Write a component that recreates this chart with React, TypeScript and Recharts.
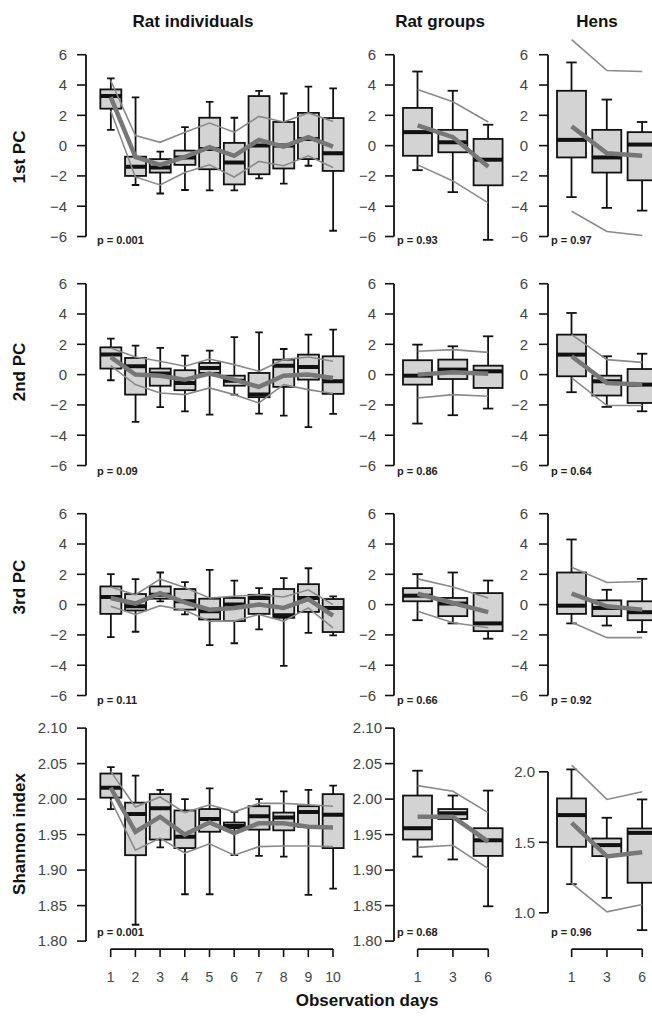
import React from 'react';
import { ComposedChart, Bar, Line, XAxis, YAxis, ReferenceLine } from 'recharts';

const FONT = '"Liberation Sans", Arial, Helvetica, sans-serif';

// x categories
const indDays = [1, 2, 3, 4, 5, 6, 7, 8, 9, 10];
const grpDays = [1, 3, 6];

// y tick labels
const pcTicks = [-6, -4, -2, 0, 2, 4, 6];
const shTicks = [1.8, 1.85, 1.9, 1.95, 2.0, 2.05, 2.1];
const henShTicks = [1.0, 1.5, 2.0];

const rowLabels = ['1st PC', '2nd PC', '3rd PC', 'Shannon index'];
const colTitles = ['Rat individuals', 'Rat groups', 'Hens'];
const pValues = [
  ['p = 0.001', 'p = 0.93', 'p = 0.97'],
  ['p = 0.09', 'p = 0.86', 'p = 0.64'],
  ['p = 0.11', 'p = 0.66', 'p = 0.92'],
  ['p = 0.001', 'p = 0.68', 'p = 0.96'],
];

// boxes: [lower whisker, q1, median, q3, upper whisker]
// lines: [lower CI, mean, upper CI]
const pc1IndBox = [
  [1.04, 2.44, 3.27, 3.71, 4.44],
  [-2.6, -2.0, -1.4, -0.73, 3.18],
  [-3.16, -1.78, -1.44, -0.89, -0.4],
  [-2.93, -1.27, -0.78, -0.33, 1.22],
  [-2.96, -1.56, -0.22, 1.84, 2.89],
  [-2.96, -2.56, -1.11, 0.18, 1.84],
  [-2.16, -1.89, 0.0, 3.27, 3.62],
  [-2.51, -1.51, 0.0, 1.56, 3.44],
  [-1.33, -0.89, 0.44, 2.16, 3.89],
  [-5.62, -1.67, -0.51, 1.82, 3.78],
];
const pc1IndLine = [
  [2.3, 3.2, 4.3], [-2.07, -0.75, 0.67], [-2.6, -1.27, 0.22], [-1.78, -0.75, 0.89],
  [-1.27, -0.1, 1.49], [-2.07, -0.67, 0.89], [-1.04, 0.38, 1.93], [-1.33, -0.07, 1.56],
  [-0.67, 0.56, 2.16], [-1.44, -0.07, 1.6],
];
const pc1GrpBox = [
  [-1.62, -0.67, 0.89, 2.49, 4.89],
  [-3.07, -0.44, 0.22, 1.04, 3.62],
  [-6.22, -2.62, -0.93, 0.44, 1.38],
];
const pc1GrpLine = [[-1.27, 1.33, 3.71], [-2.33, 0.56, 2.89], [-3.78, -1.4, 1.56]];
const pc1HenBox = [
  [-3.4, -0.78, 0.38, 3.62, 5.49],
  [-4.11, -1.78, -0.78, 1.04, 3.04],
  [-4.29, -2.29, 0.07, 0.89, 1.56],
];
const pc1HenLine = [[-4.33, 1.27, 7.0], [-5.67, -0.51, 4.96], [-5.93, -0.67, 4.89]];

const pc2IndBox = [
  [-0.37, 0.4, 1.32, 1.8, 2.37],
  [-3.12, -1.32, 0.55, 1.1, 1.91],
  [-2.15, -0.73, 0.07, 0.4, 1.76],
  [-2.42, -1.03, -0.55, 0.29, 1.25],
  [-2.64, 0.11, 0.44, 0.77, 1.58],
  [-1.32, -0.73, -0.4, -0.07, 2.48],
  [-2.57, -1.49, -1.32, 0.11, 2.79],
  [-2.7, -0.81, 0.59, 0.99, 1.69],
  [-3.47, -0.33, 0.51, 1.32, 2.64],
  [-2.59, -1.27, -0.44, 1.21, 2.97],
];
const pc2IndLine = [
  [0.59, 1.16, 1.76], [-0.66, 0.0, 1.16], [-1.21, -0.07, 0.88], [-1.32, -0.33, 0.55],
  [-0.88, 0.07, 1.03], [-1.32, -0.33, 0.66], [-1.87, -0.81, 0.22], [-0.66, -0.07, 0.99],
  [-0.99, 0.0, 1.16], [-1.25, -0.22, 0.88],
];
const pc2GrpBox = [
  [-3.23, -0.66, -0.07, 0.95, 1.98],
  [-2.68, -0.29, 0.33, 0.99, 1.87],
  [-2.24, -0.88, 0.22, 0.59, 2.53],
];
const pc2GrpLine = [[-1.54, 0.0, 1.54], [-1.32, 0.15, 1.65], [-1.43, 0.05, 1.47]];
const pc2HenBox = [
  [-1.16, -0.11, 1.32, 2.64, 4.07],
  [-2.13, -1.38, -0.44, -0.07, 1.21],
  [-2.42, -1.87, -0.66, 0.37, 1.38],
];
const pc2HenLine = [[-0.22, 1.21, 2.64], [-2.04, -0.55, 0.99], [-2.04, -0.66, 0.81]];

const pc3IndBox = [
  [-2.14, -0.61, 0.5, 1.2, 2.01],
  [-1.79, -0.39, -0.11, 0.7, 1.68],
  [0.22, 0.39, 0.65, 1.2, 2.12],
  [-0.65, -0.33, 0.22, 1.03, 1.48],
  [-2.68, -0.98, -0.44, 0.39, 2.29],
  [-2.55, -1.09, 0.0, 0.44, 1.59],
  [-1.64, -0.61, 0.44, 0.65, 1.09],
  [-4.04, -0.87, -0.7, 1.03, 1.75],
  [-1.86, -0.48, 0.44, 1.35, 2.4],
  [-2.03, -1.81, -0.22, 0.37, 0.55],
];
const pc3IndLine = [
  [-0.11, 0.44, 1.16], [-0.65, 0.07, 0.65], [-0.07, 0.76, 1.68], [-0.37, 0.15, 1.13],
  [-1.09, -0.33, 0.44], [-1.09, -0.22, 0.55], [-0.65, 0.0, 0.65], [-1.09, -0.22, 0.5],
  [-0.22, 0.37, 0.98], [-1.53, -0.72, 0.0],
];
const pc3GrpBox = [
  [-1.03, 0.22, 0.59, 1.09, 2.01],
  [-1.24, -0.76, 0.07, 0.44, 2.12],
  [-2.25, -1.75, -1.24, 0.76, 1.59],
];
const pc3GrpLine = [[-0.44, 0.72, 1.7], [-1.2, 0.11, 1.16], [-1.53, -0.5, 0.44]];
const pc3HenBox = [
  [-1.24, -0.61, -0.07, 2.12, 4.3],
  [-1.38, -0.76, -0.22, 0.28, 0.98],
  [-1.81, -1.03, -0.5, 0.22, 1.7],
];
const pc3HenLine = [[-1.16, 0.72, 2.46], [-2.18, -0.11, 1.46], [-2.18, -0.33, 1.53]];

const shIndBox = [
  [1.986, 2.002, 2.016, 2.036, 2.045],
  [1.823, 1.921, 1.979, 1.995, 2.033],
  [1.932, 1.943, 1.987, 2.007, 2.013],
  [1.866, 1.931, 1.947, 1.984, 2.0],
  [1.866, 1.954, 1.972, 1.986, 2.015],
  [1.921, 1.959, 1.962, 1.967, 1.982],
  [1.92, 1.957, 1.976, 1.99, 2.0],
  [1.919, 1.956, 1.974, 1.981, 2.011],
  [1.865, 1.961, 1.982, 1.99, 2.013],
  [1.874, 1.931, 1.978, 2.007, 2.019],
];
const shIndLine = [
  [1.999, 2.016, 2.039], [1.928, 1.954, 1.989], [1.945, 1.975, 2.003], [1.924, 1.95, 1.981],
  [1.937, 1.967, 1.992], [1.921, 1.952, 1.982], [1.933, 1.966, 1.994], [1.934, 1.966, 1.994],
  [1.934, 1.961, 1.992], [1.933, 1.96, 1.99],
];
const shGrpBox = [
  [1.919, 1.943, 1.959, 2.005, 2.04],
  [1.915, 1.972, 1.98, 1.986, 2.005],
  [1.849, 1.92, 1.942, 1.959, 2.012],
];
const shGrpLine = [[1.932, 1.975, 2.019], [1.935, 1.975, 2.011], [1.902, 1.94, 1.981]];
const shHenBox = [
  [1.203, 1.468, 1.693, 1.811, 2.017],
  [1.106, 1.402, 1.48, 1.527, 1.674],
  [0.877, 1.213, 1.567, 1.598, 1.804],
];
const shHenLine = [[1.208, 1.638, 2.047], [1.007, 1.4, 1.804], [1.059, 1.43, 1.858]];

// layout (pixels)
const Y_AXIS_W = 50;
const TOP_PAD = 12;
const cols = [
  { plotLeft: 86.3, xMin: 0, xMax: 10.5, pxPerX: 24.7, barSize: 21, days: indDays, pcMargin: 10, shMargin: 10 },
  { plotLeft: 393.5, xMin: 0.33, xMax: 3.5, pxPerX: 35.3, barSize: 29, days: grpDays, pcMargin: 9, shMargin: 3 },
  { plotLeft: 548, xMin: 0.33, xMax: 3.5, pxPerX: 35.3, barSize: 29, days: grpDays, pcMargin: 11, shMargin: 4 },
];
const PC_PX = 15.15;
const pcTop6 = [54.5, 284, 513.5];
const X_AXIS_Y = 949;
const X_AXIS_H = 42;

const fmtPc = (v: number) => (v < 0 ? `\u2212${Math.abs(v)}` : `${v}`);
const fmtSh = (v: number) => v.toFixed(2);
const fmtHen = (v: number) => v.toFixed(1);

type YCfg = { yMin: number; yMax: number; pxPerY: number; ticks: number[]; fmt: (v: number) => string };

const pcY: YCfg = { yMin: -6.5, yMax: 7.5, pxPerY: PC_PX, ticks: pcTicks, fmt: fmtPc };
const shY: YCfg = { yMin: 1.8 - 8 / 710, yMax: 2.11, pxPerY: 710, ticks: shTicks, fmt: fmtSh };
const henY: YCfg = {
  yMin: 1.0 - (X_AXIS_Y - 912.7) / 141,
  yMax: 2.0 + (771.7 - 720.9) / 141,
  pxPerY: 141,
  ticks: henShTicks,
  fmt: fmtHen,
};

const rowsData = [
  [[pc1IndBox, pc1IndLine], [pc1GrpBox, pc1GrpLine], [pc1HenBox, pc1HenLine]],
  [[pc2IndBox, pc2IndLine], [pc2GrpBox, pc2GrpLine], [pc2HenBox, pc2HenLine]],
  [[pc3IndBox, pc3IndLine], [pc3GrpBox, pc3GrpLine], [pc3HenBox, pc3HenLine]],
  [[shIndBox, shIndLine], [shGrpBox, shGrpLine], [shHenBox, shHenLine]],
];

const toRows = (days: number[], box: number[][], line: number[][]) =>
  days.map((d, i) => ({
    pos: i + 1,
    day: d,
    range: [box[i][0], box[i][4]],
    low: box[i][0],
    q1: box[i][1],
    med: box[i][2],
    q3: box[i][3],
    high: box[i][4],
    ciLo: line[i][0],
    mean: line[i][1],
    ciHi: line[i][2],
  }));

const BoxShape = (props: any) => {
  const { x, y, width, height, payload } = props;
  if (x == null || y == null || !payload) return null;
  const top = Math.min(y, y + height);
  const h = Math.abs(height);
  const span = payload.high - payload.low;
  const py = (v: number) => top + ((payload.high - v) / span) * h;
  const cx = x + width / 2;
  const cap = width * 0.18;
  const stroke = '#111';
  return (
    <g>
      <line x1={cx} x2={cx} y1={py(payload.high)} y2={py(payload.q3)} stroke={stroke} strokeWidth={1.8} />
      <line x1={cx} x2={cx} y1={py(payload.q1)} y2={py(payload.low)} stroke={stroke} strokeWidth={1.8} />
      <line x1={cx - cap} x2={cx + cap} y1={py(payload.high)} y2={py(payload.high)} stroke={stroke} strokeWidth={1.8} />
      <line x1={cx - cap} x2={cx + cap} y1={py(payload.low)} y2={py(payload.low)} stroke={stroke} strokeWidth={1.8} />
      <rect
        x={x}
        y={py(payload.q3)}
        width={width}
        height={Math.max(py(payload.q1) - py(payload.q3), 1)}
        fill="#d3d3d3"
        stroke={stroke}
        strokeWidth={1.8}
      />
      <line x1={x} x2={x + width} y1={py(payload.med)} y2={py(payload.med)} stroke={stroke} strokeWidth={4} />
    </g>
  );
};

const Panel = ({ row, col }: { row: number; col: number }) => {
  const c = cols[col];
  const bottom = row === 3;
  const yc = row < 3 ? pcY : col === 2 ? henY : shY;
  const [box, line] = rowsData[row][col];
  const data = toRows(c.days, box, line);
  const plotW = (c.xMax - c.xMin) * c.pxPerX;
  const plotH = (yc.yMax - yc.yMin) * yc.pxPerY;
  const plotTop = row < 3 ? pcTop6[row] - (yc.yMax - 6) * yc.pxPerY : X_AXIS_Y - plotH;
  const w = Y_AXIS_W + plotW;
  const hgt = TOP_PAD + plotH + (bottom ? X_AXIS_H : 0);
  const positions = data.map((d) => d.pos);
  const tickMargin = row < 3 ? c.pcMargin : c.shMargin;
  return (
    <div style={{ position: 'absolute', left: c.plotLeft - Y_AXIS_W, top: plotTop - TOP_PAD }}>
      <ComposedChart width={w} height={hgt} data={data} margin={{ top: TOP_PAD, right: 0, bottom: 0, left: 0 }}>
        <XAxis
          type="number"
          dataKey="pos"
          domain={[c.xMin, c.xMax]}
          allowDataOverflow
          ticks={positions}
          interval={0}
          hide={!bottom}
          height={X_AXIS_H}
          tickSize={8}
          tickMargin={15}
          axisLine={false}
          tickLine={{ stroke: '#111', strokeWidth: 1.6 }}
          tick={{ fontSize: 14, fill: '#444', fontFamily: FONT }}
          tickFormatter={(v: number) => `${c.days[v - 1]}`}
        />
        <YAxis
          type="number"
          domain={[yc.yMin, yc.yMax]}
          allowDataOverflow
          ticks={yc.ticks}
          interval={0}
          width={Y_AXIS_W}
          tickSize={9}
          tickMargin={tickMargin}
          axisLine={false}
          tickLine={{ stroke: '#111', strokeWidth: 1.6 }}
          tick={{ fontSize: 15, fill: '#444', fontFamily: FONT }}
          tickFormatter={yc.fmt}
        />
        <ReferenceLine
          segment={[
            { x: c.xMin, y: yc.ticks[0] },
            { x: c.xMin, y: yc.ticks[yc.ticks.length - 1] },
          ]}
          stroke="#111"
          strokeWidth={1.8}
          ifOverflow="visible"
        />
        {bottom && (
          <ReferenceLine
            segment={[
              { x: positions[0], y: yc.yMin },
              { x: positions[positions.length - 1], y: yc.yMin },
            ]}
            stroke="#111"
            strokeWidth={1.8}
            ifOverflow="visible"
          />
        )}
        <Bar dataKey="range" barSize={c.barSize} shape={BoxShape} isAnimationActive={false} />
        <Line dataKey="ciHi" type="linear" stroke="#8a8a8a" strokeWidth={1.6} dot={false} isAnimationActive={false} />
        <Line dataKey="ciLo" type="linear" stroke="#8a8a8a" strokeWidth={1.6} dot={false} isAnimationActive={false} />
        <Line dataKey="mean" type="linear" stroke="#777" strokeWidth={4.5} dot={false} isAnimationActive={false} />
      </ComposedChart>
    </div>
  );
};

const titleX = [193, 440, 597];
const rowLabelY = [157, 372, 587, 834];
const pLeft = [97, 397, 551];
const pY = [240.7, 471, 700, 932];

const boldText = (size: number): React.CSSProperties => ({
  position: 'absolute',
  fontFamily: FONT,
  fontWeight: 'bold',
  fontSize: size,
  lineHeight: `${size}px`,
  color: '#111',
  whiteSpace: 'nowrap',
});

export default function App() {
  return (
    <div
      style={{
        position: 'absolute',
        left: 0,
        top: 0,
        width: 652,
        height: 1016,
        overflow: 'hidden',
        background: '#fff',
      }}
    >
      {colTitles.map((t, i) => (
        <div key={t} style={{ ...boldText(17), left: titleX[i], top: 13, transform: 'translateX(-50%)' }}>
          {t}
        </div>
      ))}
      {rowLabels.map((t, i) => (
        <div
          key={t}
          style={{ ...boldText(17), left: 19, top: rowLabelY[i], transform: 'translate(-50%, -50%) rotate(-90deg)' }}
        >
          {t}
        </div>
      ))}
      {[0, 1, 2, 3].map((r) => [0, 1, 2].map((c) => <Panel key={`${r}-${c}`} row={r} col={c} />))}
      {pValues.map((row, r) =>
        row.map((p, c) => (
          <div key={`p${r}${c}`} style={{ ...boldText(11), color: '#222', left: pLeft[c], top: pY[r] - 5.4 }}>
            {p}
          </div>
        ))
      )}
      <div style={{ ...boldText(17), left: 367, top: 992, transform: 'translateX(-50%)' }}>Observation days</div>
    </div>
  );
}
